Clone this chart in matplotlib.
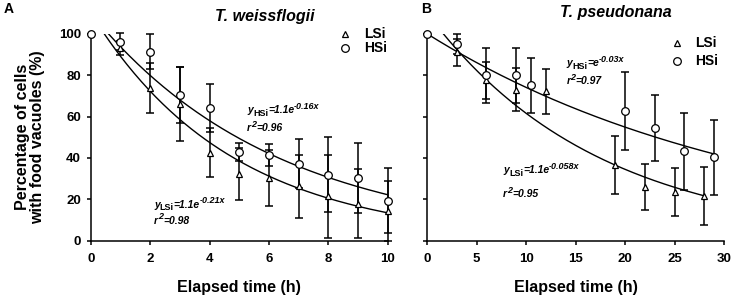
import numpy as np
import matplotlib
matplotlib.use("Agg")
import matplotlib.pyplot as plt
from matplotlib.lines import Line2D

plt.rcParams['font.family'] = ['Liberation Sans', 'DejaVu Sans']

# ---------------- Panel A: T. weissflogii ----------------
a_hsi_x = [0, 1, 2, 3, 4, 5, 6, 7, 8, 9, 10]
a_hsi_y = [100, 96.2, 91.4, 70.2, 64.0, 42.8, 41.5, 37.2, 31.9, 30.3, 19.3]
a_hsi_e = [0, 4.0, 8.6, 13.5, 11.7, 4.4, 5.4, 11.9, 18.2, 16.9, 15.6]
a_lsi_x = [1, 2, 3, 4, 5, 6, 7, 8, 9, 10]
a_lsi_y = [93.0, 73.8, 66.0, 42.6, 32.2, 30.3, 26.2, 21.4, 17.9, 14.2]
a_lsi_e = [3.5, 12.0, 18.0, 11.9, 12.4, 13.3, 15.4, 20.1, 16.5, 14.5]
a_fit_hsi = (1.1, -0.16)
a_fit_lsi = (1.1, -0.21)
a_xticks = [0, 2, 4, 6, 8, 10]

# ---------------- Panel B: T. pseudonana ----------------
b_hsi_x = [0, 3, 6, 9, 10.5, 20, 23, 26, 29]
b_hsi_y = [100, 95.2, 79.9, 79.9, 75.2, 62.5, 54.4, 43.1, 40.2]
b_hsi_e = [0, 4.8, 13.2, 13.2, 13.3, 18.9, 16.1, 18.4, 18.0]
b_lsi_x = [3, 6, 9, 12, 19, 22, 25, 28]
b_lsi_y = [91.0, 77.5, 73.0, 72.1, 36.7, 25.9, 23.5, 21.7]
b_lsi_e = [6.5, 9.0, 10.5, 10.7, 13.9, 11.0, 11.7, 14.0]
b_fit_hsi = (1.0, -0.03)
b_fit_lsi = (1.1, -0.058)
b_xticks = [0, 5, 10, 15, 20, 25, 30]

yticks = [0, 20, 40, 60, 80, 100]

W, H = 737, 299
fig = plt.figure(figsize=(W / 100, H / 100), dpi=100)

axA = fig.add_axes([90.7 / W, 1 - 240.7 / H, 297 / W, 207 / H])
axB = fig.add_axes([427 / W, 1 - 240.7 / H, 297 / W, 207 / H])

tick_fs = 9.5
lab_fs = 11.5


def fit_curve(ax, params, xmax):
    a, k = params
    x0 = max(0.0, np.log(1.0 / a) / k) if a > 1 else 0.0
    xs = np.linspace(x0, xmax, 200)
    ax.plot(xs, 100 * a * np.exp(k * xs), color='black', lw=1.0, zorder=2)


def draw_series(ax, x, y, e, marker, ms):
    ax.errorbar(x, y, yerr=e, fmt='none', ecolor='black', elinewidth=1.1,
                capsize=2.6, capthick=1.1, zorder=3, clip_on=False)
    ax.plot(x, y, linestyle='none', marker=marker, ms=ms, mfc='white',
            mec='black', mew=0.9, zorder=4, clip_on=False)


for ax, xmax, xt in [(axA, 10, a_xticks), (axB, 30, b_xticks)]:
    ax.set_xlim(0, xmax)
    ax.set_ylim(0, 100)
    ax.set_xticks(xt)
    ax.set_xticklabels([str(t) for t in xt], fontsize=tick_fs, fontweight='bold')
    ax.set_yticks(yticks)
    for s in ['top', 'right']:
        ax.spines[s].set_visible(False)
    for s in ['left', 'bottom']:
        ax.spines[s].set_linewidth(1.1)
    ax.tick_params(axis='x', direction='out', length=3, width=1.1, pad=6)
    ax.tick_params(axis='y', direction='out', length=3, width=1.1, pad=4)
    ax.set_xlabel('Elapsed time (h)', fontsize=lab_fs, fontweight='bold', labelpad=11)

axA.set_yticklabels([str(t) for t in yticks], fontsize=tick_fs, fontweight='bold')
axB.set_yticklabels([])
axA.set_ylabel('Percentage of cells\nwith food vacuoles (%)', fontsize=lab_fs,
               fontweight='bold', labelpad=10, linespacing=1.0)

# Panel A
fit_curve(axA, a_fit_hsi, 10)
fit_curve(axA, a_fit_lsi, 10)
draw_series(axA, a_lsi_x, a_lsi_y, a_lsi_e, '^', 5.0)
draw_series(axA, a_hsi_x, a_hsi_y, a_hsi_e, 'o', 5.5)

# Panel B
fit_curve(axB, b_fit_hsi, 29.1)
fit_curve(axB, b_fit_lsi, 28.1)
draw_series(axB, b_lsi_x, b_lsi_y, b_lsi_e, '^', 5.0)
draw_series(axB, b_hsi_x, b_hsi_y, b_hsi_e, 'o', 5.5)

# Titles and panel letters
fig.text(265 / W, 1 - 17 / H, 'T. weissflogii', fontsize=11.5, fontweight='bold',
         fontstyle='italic', ha='center', va='center')
fig.text(616 / W, 1 - 13 / H, 'T. pseudonana', fontsize=11.5, fontweight='bold',
         fontstyle='italic', ha='center', va='center')
fig.text(4 / W, 1 - 9 / H, 'A', fontsize=10, fontweight='bold', va='center')
fig.text(421 / W, 1 - 9 / H, 'B', fontsize=10, fontweight='bold', va='center')


# Legends (manual)
def legend(xm, ytri, ycir, xt):
    for yy, mk, lab in [(ytri, '^', 'LSi'), (ycir, 'o', 'HSi')]:
        fig.add_artist(Line2D([xm / W], [1 - yy / H], marker=mk, ms=5.0 if mk == '^' else 5.5,
                              mfc='white', mec='black', mew=0.9, linestyle='none'))
        fig.text(xt / W, 1 - yy / H, lab, fontsize=10, fontweight='bold', va='center')


legend(345, 34, 48, 364)
legend(677, 43, 61, 695)

# Equations built from pieces (main / subscript / superscript)
fig.canvas.draw()
renderer = fig.canvas.get_renderer()
MAIN, SMALL = 7.5, 6.5


def rich(ax, x, y, pieces):
    off = 0.0
    for txt, kind in pieces:
        if kind == 'sub':
            size, dy, style = SMALL, -2.0, 'normal'
        elif kind == 'sup':
            size, dy, style = SMALL, 3.2, 'italic'
        else:
            size, dy, style = MAIN, 0.0, 'italic'
        t = ax.annotate(txt, xy=(x, y), xycoords='data', xytext=(off, dy),
                        textcoords='offset points', fontsize=size,
                        fontweight='bold', fontstyle=style, ha='left', va='baseline')
        bb = t.get_window_extent(renderer)
        off += bb.width * 72.0 / fig.dpi


def equation(ax, x, y, x2, y2, sub, coef, expo, r2):
    rich(ax, x, y, [('y', 'main'), (sub, 'sub'), ('=' + coef + 'e', 'main'), (expo, 'sup')])
    rich(ax, x2, y2, [('r', 'main'), ('2', 'sup'), ('=' + r2, 'main')])


equation(axA, 5.27, 61.5, 5.27, 53.0, 'HSi', '1.1', '-0.16x', '0.96')
equation(axA, 2.13, 16.0, 2.13, 8.3, 'LSi', '1.1', '-0.21x', '0.98')
equation(axB, 14.1, 84.2, 14.1, 75.6, 'HSi', '', '-0.03x', '0.97')
equation(axB, 7.7, 32.7, 7.7, 21.0, 'LSi', '1.1', '-0.058x', '0.95')

fig.savefig('out.png', dpi=100)
